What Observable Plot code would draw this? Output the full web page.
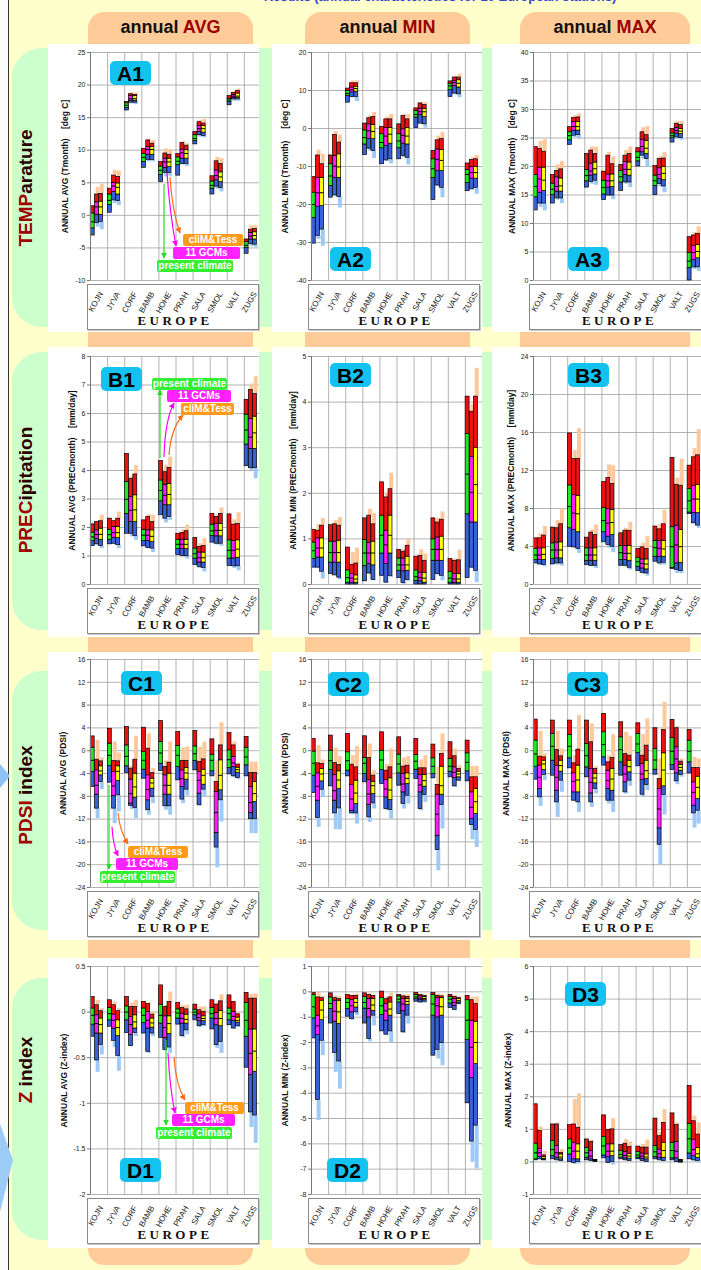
<!DOCTYPE html>
<html><head><meta charset="utf-8">
<script src="https://cdn.jsdelivr.net/npm/d3@7"></script>
<script src="https://cdn.jsdelivr.net/npm/@observablehq/plot@0.6"></script>
<style>
body{margin:0;background:#ffffcc;}
#page{position:relative;width:701px;height:1270px;overflow:hidden;background:#ffffcc;font-family:'Liberation Sans',Arial,sans-serif;}
</style></head>
<body><div id="page"></div>
<script>
// ---------------- DATA ----------------
const stations = ["KOJN","JYVA","CORF","BAMB","HOHE","PRAH","SALA","SMOL","VALT","ZUGS"];
const seriesNames = ["present climate","11 GCMs","cliM&Tess"];
const columnHeads = [["annual ","AVG"],["annual ","MIN"],["annual ","MAX"]];
const rowHeads = [["TEMP","arature"],["PREC","ipitation"],["PDSI"," index"],["Z"," index"]];
const groupLabel = "EUROPE";
// each bar: [paleLow, low, boxLow, median, boxHigh, high, paleHigh]; per station: [present, 11 GCMs, cliM&Tess]
const A1 = [
 [[-3.1,-3.1,-2.0,-1.0,0.3,1.4,1.4],[-1.8,-1.2,0.1,1.3,2.0,3.2,4.3],[-2.2,-1.0,0.1,1.3,2.1,3.3,4.8]],
 [[0.4,0.4,1.6,2.3,3.2,4.1,4.1],[1.8,2.3,3.6,4.5,5.0,6.1,6.9],[1.5,2.2,3.2,4.3,4.9,5.9,6.8]],
 [[16.1,16.1,16.5,16.9,17.2,17.4,17.4],[17.1,17.3,17.6,17.9,18.3,18.6,18.8],[17.0,17.3,17.6,17.9,18.3,18.5,18.8]],
 [[7.3,7.3,8.2,8.9,9.4,10.2,10.2],[8.2,8.5,9.3,10.1,10.5,11.5,11.7],[8.2,8.5,9.3,10.1,10.5,11.0,11.5]],
 [[5.1,5.1,6.2,6.9,7.5,8.2,8.2],[5.9,6.5,7.3,8.2,8.7,9.5,10.2],[6.0,6.5,7.4,8.2,8.7,9.3,10.1]],
 [[6.1,6.1,7.7,8.3,8.9,9.4,9.4],[7.7,7.9,8.7,9.6,10.1,11.1,11.3],[7.5,7.9,8.7,9.5,10.0,10.7,11.0]],
 [[10.9,10.9,11.4,11.8,12.3,12.8,12.8],[12.0,12.3,12.8,13.3,13.7,14.3,14.6],[11.9,12.2,12.7,13.3,13.7,14.1,14.7]],
 [[3.2,3.2,4.1,4.6,5.2,6.0,6.0],[4.0,4.4,5.4,6.1,6.9,8.3,8.9],[3.6,4.2,5.1,5.9,6.6,7.9,8.7]],
 [[16.9,16.9,17.4,17.7,17.9,18.3,18.3],[17.5,17.8,18.0,18.3,18.5,18.8,19.0],[17.5,17.8,18.0,18.3,18.7,19.1,19.4]],
 [[-5.9,-5.9,-5.0,-4.6,-4.1,-3.7,-3.7],[-4.8,-4.4,-3.7,-3.2,-2.7,-2.2,-1.6],[-4.9,-4.5,-3.7,-3.1,-2.6,-2.1,-1.6]]
];
const A2 = [
 [[-30.3,-30.3,-23.5,-20.0,-16.9,-12.8,-12.8],[-29.2,-28.3,-20.6,-16.9,-13.0,-7.1,-5.7],[-31.0,-26.6,-20.4,-16.9,-13.0,-9.4,-6.8]],
 [[-18.2,-18.2,-15.1,-12.5,-9.4,-7.1,-7.1],[-18.0,-17.6,-13.0,-9.9,-7.2,-1.7,-0.8],[-20.9,-18.0,-13.0,-10.1,-6.8,-3.7,-1.7]],
 [[6.8,6.8,8.6,9.2,9.9,10.5,10.5],[8.0,8.3,9.5,10.2,10.8,11.9,12.5],[7.1,8.3,9.7,10.5,11.0,11.9,12.5]],
 [[-7.0,-7.0,-4.2,-2.4,-0.5,1.3,1.3],[-5.9,-5.3,-2.8,-0.6,1.1,2.7,3.3],[-7.9,-5.9,-2.8,-0.8,0.9,3.0,4.2]],
 [[-9.4,-9.4,-5.2,-3.7,-1.5,0.4,0.4],[-8.7,-8.4,-4.6,-2.0,0.1,2.4,3.0],[-9.3,-8.1,-4.0,-1.5,0.1,2.4,3.7]],
 [[-8.1,-8.1,-5.2,-3.3,-1.5,1.1,1.1],[-7.7,-7.2,-4.0,-1.8,-0.2,3.3,3.6],[-9.6,-7.7,-4.2,-2.0,0.1,2.4,3.7]],
 [[0.1,0.1,2.9,3.7,4.6,5.3,5.3],[1.1,1.3,3.6,4.4,5.2,6.6,6.8],[0.1,1.1,3.0,4.4,5.1,6.2,6.8]],
 [[-18.8,-18.8,-13.0,-10.6,-8.1,-5.9,-5.9],[-15.3,-15.0,-11.2,-8.1,-5.5,-3.1,-2.0],[-18.2,-15.6,-11.2,-8.4,-5.7,-2.8,-1.1]],
 [[8.3,8.3,10.1,11.2,11.8,12.4,12.4],[8.8,9.2,11.2,12.1,12.5,13.4,13.8],[8.1,9.0,10.8,11.9,12.7,13.4,14.3]],
 [[-16.5,-16.5,-14.3,-12.1,-10.9,-9.2,-9.2],[-16.2,-16.0,-13.2,-11.6,-10.1,-8.3,-7.7],[-17.3,-15.6,-13.2,-11.6,-10.1,-8.1,-7.1]]
];
const A3 = [
 [[12.3,12.3,14.6,16.5,18.5,23.4,23.4],[12.8,13.5,15.4,17.8,19.8,23.1,24.4],[12.2,13.5,15.7,17.6,19.8,22.6,24.7]],
 [[13.5,13.5,15.0,16.0,17.0,18.5,18.5],[14.1,14.4,15.6,16.5,18.1,19.2,20.3],[13.5,14.4,15.6,16.6,17.9,19.5,20.9]],
 [[23.8,23.8,24.6,25.4,26.0,26.9,26.9],[25.1,25.4,26.3,27.0,27.8,28.5,28.9],[24.8,25.5,26.3,27.0,27.8,28.6,29.2]],
 [[16.3,16.3,17.4,18.4,19.4,22.2,22.2],[16.9,17.3,18.4,19.2,20.5,22.8,23.4],[16.7,17.5,18.6,19.6,20.7,22.2,23.4]],
 [[14.1,14.1,15.1,16.3,17.5,19.1,19.1],[14.8,14.9,16.3,17.5,18.6,21.9,22.5],[14.2,14.9,16.4,17.5,18.6,20.4,21.7]],
 [[15.7,15.7,17.2,18.2,19.2,20.3,20.3],[16.9,17.2,18.5,19.5,20.8,21.9,22.8],[16.3,17.2,18.4,19.5,20.7,22.2,23.4]],
 [[20.0,20.0,20.9,21.6,22.5,23.2,23.2],[21.3,21.9,22.5,23.5,24.7,26.0,26.8],[19.9,21.3,22.2,23.2,24.5,25.5,27.0]],
 [[15.0,15.0,16.6,17.5,18.4,20.1,20.1],[16.4,16.9,17.8,18.6,19.7,21.3,21.7],[15.4,16.5,17.6,18.8,19.9,21.4,22.5]],
 [[24.2,24.2,25.0,25.4,25.8,26.6,26.6],[24.8,25.1,25.8,26.3,26.8,27.5,27.9],[24.6,25.0,25.7,26.2,26.6,27.3,27.9]],
 [[0.0,0.0,2.2,3.4,4.8,7.6,7.6],[1.9,2.3,3.6,4.9,6.1,7.9,8.4],[1.6,2.3,3.9,5.1,6.2,8.2,9.4]]
];
const B1 = [
 [[1.35,1.35,1.52,1.67,1.82,2.11,2.11],[1.38,1.41,1.59,1.75,1.90,2.19,2.22],[1.26,1.35,1.57,1.76,1.96,2.22,2.43]],
 [[1.41,1.41,1.57,1.75,1.92,2.31,2.31],[1.40,1.43,1.64,1.82,2.02,2.22,2.25],[1.26,1.38,1.63,1.82,2.02,2.31,2.54]],
 [[1.78,1.78,2.48,2.99,3.59,4.58,4.58],[1.67,1.78,2.19,2.60,3.07,3.71,3.77],[1.55,1.70,2.19,2.62,3.13,3.86,4.17]],
 [[1.34,1.34,1.53,1.73,1.92,2.25,2.25],[1.26,1.28,1.53,1.73,1.90,2.37,2.45],[1.12,1.26,1.49,1.69,1.90,2.19,2.43]],
 [[2.43,2.43,2.92,3.30,3.65,4.33,4.33],[2.16,2.31,2.78,3.13,3.50,3.94,4.17],[2.25,2.37,2.78,3.16,3.53,4.09,4.47]],
 [[1.03,1.03,1.24,1.41,1.57,1.78,1.78],[0.97,1.00,1.24,1.41,1.57,1.81,1.92],[0.89,0.99,1.24,1.41,1.57,1.87,2.08]],
 [[0.68,0.68,0.91,1.08,1.26,1.63,1.63],[0.56,0.62,0.77,0.94,1.12,1.32,1.43],[0.44,0.58,0.77,0.94,1.12,1.35,1.61]],
 [[1.47,1.47,1.70,1.88,2.10,2.48,2.48],[1.38,1.43,1.69,1.90,2.13,2.37,2.43],[1.34,1.43,1.69,1.90,2.13,2.48,2.69]],
 [[0.65,0.65,0.91,1.20,1.55,2.46,2.46],[0.56,0.64,0.91,1.20,1.53,2.10,2.27],[0.48,0.64,0.94,1.24,1.55,2.13,2.52]],
 [[4.15,4.15,4.91,5.42,5.96,6.48,6.48],[4.00,4.08,4.76,5.17,5.81,6.83,7.03],[3.71,4.08,4.76,5.32,5.89,6.68,7.29]]
];
const B2 = [
 [[0.37,0.37,0.56,0.74,0.92,1.20,1.20],[0.35,0.37,0.59,0.80,1.01,1.18,1.31],[0.12,0.28,0.59,0.80,1.01,1.29,1.45]],
 [[0.23,0.23,0.48,0.70,0.94,1.30,1.30],[0.19,0.20,0.48,0.70,0.94,1.32,1.40],[0.10,0.15,0.48,0.70,0.96,1.29,1.47]],
 [[0,0,0.04,0.15,0.31,0.81,0.81],[0,0,0.04,0.14,0.23,0.43,0.70],[0,0,0.04,0.12,0.20,0.46,0.80]],
 [[0.07,0.07,0.41,0.69,0.98,1.45,1.45],[0.23,0.24,0.45,0.69,0.91,1.51,1.65],[0.08,0.10,0.42,0.69,0.94,1.32,1.56]],
 [[0.19,0.19,0.68,1.08,1.51,2.24,2.24],[0.03,0.04,0.45,0.87,1.18,1.91,2.00],[0.15,0.19,0.68,1.08,1.51,2.09,2.44]],
 [[0.14,0.14,0.30,0.43,0.57,0.76,0.76],[0,0.03,0.29,0.43,0.57,0.72,0.77],[0.07,0.10,0.30,0.43,0.61,0.85,0.99]],
 [[0,0,0.08,0.17,0.31,0.61,0.61],[0,0,0.07,0.15,0.26,0.63,0.76],[0,0,0.04,0.14,0.25,0.52,0.67]],
 [[0.10,0.10,0.52,0.77,0.99,1.45,1.45],[0.20,0.23,0.52,0.77,1.03,1.36,1.45],[0.08,0.19,0.52,0.77,1.05,1.42,1.59]],
 [[0,0,0.04,0.14,0.28,0.56,0.56],[0,0,0.04,0.12,0.23,0.52,0.56],[0,0,0.04,0.12,0.23,0.53,0.75]],
 [[0.14,0.14,1.54,2.42,3.30,4.12,4.12],[0.35,0.37,1.36,2.02,2.80,3.79,3.95],[0.04,0.30,1.36,2.19,3.00,4.12,4.74]]
];
const B3 = [
 [[2.22,2.22,2.57,3.10,3.74,4.86,4.86],[2.04,2.11,2.57,3.10,3.81,4.86,5.32],[1.87,2.04,2.57,3.17,3.81,5.15,6.10]],
 [[2.11,2.11,2.68,3.63,4.33,5.99,5.99],[2.04,2.22,2.75,3.63,4.41,5.92,6.73],[1.94,2.22,2.75,3.63,4.44,6.34,7.96]],
 [[3.98,3.98,5.92,8.21,10.43,15.9,15.9],[3.81,3.91,5.74,7.51,9.44,13.2,14.1],[3.28,3.74,5.50,7.44,9.34,13.2,16.4]],
 [[2.04,2.04,2.50,3.10,3.81,4.93,4.93],[1.87,1.94,2.50,3.10,3.81,5.46,5.74],[1.69,1.97,2.50,3.10,3.81,5.22,6.27]],
 [[4.44,4.44,5.50,6.73,8.04,10.78,10.78],[3.81,4.16,5.04,6.45,7.93,11.2,12.6],[3.35,3.98,5.22,6.52,7.86,10.6,12.5]],
 [[1.97,1.97,2.57,3.35,4.05,5.39,5.39],[1.87,1.97,2.57,3.28,4.05,5.67,5.92],[1.52,1.76,2.50,3.28,4.05,5.64,6.55]],
 [[1.41,1.41,1.87,2.40,2.82,3.74,3.74],[1.09,1.23,1.69,2.22,2.64,3.91,4.33],[0.88,1.16,1.59,2.15,2.64,3.74,5.04]],
 [[2.40,2.40,2.92,3.88,4.58,6.10,6.10],[2.04,2.22,2.92,3.81,4.58,5.81,6.34],[2.04,2.29,2.92,3.74,4.58,6.34,7.79]],
 [[1.62,1.62,1.76,3.98,6.03,13.32,13.32],[1.16,1.52,2.22,4.16,6.20,10.5,11.2],[1.16,1.41,2.29,3.98,5.74,10.4,13.2]],
 [[7.40,7.40,7.58,8.81,10.04,12.51,12.51],[6.34,6.45,7.51,8.99,10.40,13.39,14.3],[5.92,6.20,7.51,8.99,10.5,13.6,16.3]]
];
const C1 = [
 [[-6.36,-6.36,-3.74,-1.69,0.53,2.51,2.51],[-11.91,-10.16,-7.71,-6.07,-3.45,-1.58,1.81],[-6.83,-5.49,-4.32,-3.56,-2.74,-1.87,-1.28]],
 [[-5.61,-5.61,-2.69,-0.82,1.23,3.85,3.85],[-12.79,-10.16,-7.94,-6.19,-3.74,-1.81,1.52],[-10.74,-7.82,-5.31,-3.62,-2.74,-1.87,-0.41]],
 [[-3.91,-3.91,-2.74,-1.0,0.93,4.15,4.15],[-10.34,-9.69,-9.28,-7.53,-5.08,-3.15,-2.74],[-11.91,-10.04,-8.23,-6.36,-4.03,-1.58,2.51]],
 [[-4.91,-4.91,-3.33,-1.69,-0.23,4.03,4.03],[-11.33,-10.45,-8.70,-6.83,-4.32,0.35,2.98],[-9.28,-8.12,-6.66,-5.66,-4.91,-3.91,-3.15]],
 [[-3.56,-3.56,-2.28,-0.41,1.52,5.20,5.20],[-10.45,-9.75,-7.71,-6.07,-4.32,-2.86,-1.81],[-11.33,-9.75,-7.71,-6.07,-4.03,-2.10,1.52]],
 [[-5.20,-5.20,-2.86,-0.82,0.82,3.27,3.27],[-9.28,-8.58,-6.36,-4.91,-3.45,-1.81,0.47],[-7.94,-6.83,-5.08,-3.91,-3.04,-1.81,0.64]],
 [[-3.45,-3.45,-1.81,-0.53,0.76,3.45,3.45],[-9.69,-9.58,-7.53,-5.20,-3.74,-1.99,0.64],[-8.12,-6.83,-5.96,-4.32,-3.33,-1.52,1.52]],
 [[-4.50,-4.50,-3.62,-1.69,-0.70,1.99,1.99],[-20.55,-16.99,-14.42,-10.86,-7.24,-5.49,-1.69],[-12.50,-8.70,-6.95,-4.32,-1.69,0.93,4.91]],
 [[-4.15,-4.15,-3.04,-1.58,0.06,3.09,3.09],[-4.73,-4.50,-2.86,-2.16,-1.11,0.93,1.52],[-5.08,-4.79,-3.85,-3.33,-2.98,-2.45,-2.16]],
 [[-4.50,-4.50,-2.57,-1.11,0.53,2.39,2.39],[-14.54,-12.03,-10.92,-9.11,-6.36,-3.91,-1.99],[-14.54,-12.03,-8.99,-7.53,-5.49,-3.91,-1.99]]
];
const C2 = [
 [[-7.43,-7.43,-4.38,-2.21,-0.16,2.06,2.06],[-13.46,-11.82,-8.77,-6.25,-3.97,-2.21,0.89],[-8.19,-6.84,-5.38,-4.09,-3.21,-2.33,-1.63]],
 [[-6.25,-6.25,-3.39,-1.75,0.0,2.65,2.65],[-13.87,-11.0,-8.77,-7.02,-4.26,-2.16,0.48],[-13.87,-10.12,-6.72,-5.14,-3.62,-2.51,-1.04]],
 [[-4.50,-4.50,-3.50,-1.75,-0.28,2.94,2.94],[-11.12,-11.0,-10.53,-8.48,-6.02,-2.45,-0.87],[-12.87,-11.0,-9.36,-7.43,-5.26,-2.92,0.71]],
 [[-5.55,-5.55,-4.09,-2.21,-1.28,2.53,2.53],[-12.58,-11.70,-9.48,-7.60,-5.14,-1.28,1.18],[-10.24,-9.24,-7.60,-6.14,-5.44,-4.38,-3.50]],
 [[-5.85,-5.85,-3.39,-1.63,0.0,3.23,3.23],[-10.53,-10.24,-8.19,-6.72,-5.14,-3.50,-2.45],[-12.0,-10.41,-8.66,-6.90,-4.85,-2.92,0.30]],
 [[-6.14,-6.14,-3.97,-2.33,-0.69,2.35,2.35],[-10.24,-9.36,-7.31,-5.85,-4.09,-2.80,-1.28],[-9.36,-7.90,-5.85,-4.85,-3.97,-2.63,-1.04]],
 [[-4.97,-4.97,-3.33,-1.86,-0.75,2.06,2.06],[-10.53,-10.24,-7.31,-6.02,-4.26,-3.09,-1.63],[-9.07,-7.78,-6.31,-5.26,-4.26,-3.09,-0.87]],
 [[-4.85,-4.85,-4.09,-2.74,-1.34,1.07,1.07],[-21.07,-17.44,-14.92,-11.12,-7.72,-6.02,-2.92],[-13.75,-9.53,-7.72,-6.14,-2.80,-0.57,2.94]],
 [[-4.67,-4.67,-3.68,-2.74,-1.45,1.48,1.48],[-6.43,-6.25,-4.79,-3.80,-2.92,-0.98,0.30],[-5.44,-5.26,-4.67,-4.09,-3.68,-3.21,-2.62]],
 [[-5.38,-5.38,-3.62,-2.04,-0.46,1.77,1.77],[-15.63,-13.05,-12.0,-9.94,-7.31,-4.67,-2.74],[-16.97,-13.93,-11.12,-8.95,-6.72,-4.67,-2.74]]
];
const C3 = [
 [[-5.08,-5.08,-2.80,-0.57,1.77,5.46,5.46],[-9.77,-8.19,-6.72,-4.67,-2.62,-1.04,3.41],[-5.26,-4.26,-3.39,-2.33,-1.75,-1.16,-0.57]],
 [[-4.38,-4.38,-1.75,0.77,2.94,5.28,5.28],[-11.70,-9.07,-7.02,-4.67,-2.62,0.13,3.41],[-7.31,-5.26,-3.68,-2.62,-1.75,-0.98,0.30]],
 [[-3.09,-3.09,-1.34,0.77,2.76,5.28,5.28],[-8.89,-8.77,-7.31,-5.38,-3.97,-2.21,-0.87],[-10.82,-9.07,-7.31,-5.14,-2.62,0.19,6.16]],
 [[-4.67,-4.67,-2.92,-0.87,1.18,5.28,5.28],[-9.94,-9.07,-7.49,-5.55,-3.21,1.48,4.70],[-7.60,-6.72,-5.73,-4.79,-4.09,-3.21,-2.80]],
 [[-2.62,-2.62,-1.16,1.07,3.23,6.45,6.45],[-9.36,-8.77,-6.72,-5.26,-3.50,-2.04,-0.87],[-10.82,-8.77,-7.02,-4.97,-3.21,-1.28,2.82]],
 [[-4.38,-4.38,-2.04,0.19,2.35,4.99,4.99],[-7.60,-7.31,-5.55,-4.09,-2.62,-0.57,3.23],[-6.25,-5.26,-3.80,-2.80,-1.75,-0.87,2.53]],
 [[-2.74,-2.74,-0.40,1.18,2.94,4.81,4.81],[-8.19,-7.72,-5.14,-4.09,-2.33,-0.87,2.82],[-7.02,-6.02,-4.97,-3.50,-1.75,0.89,5.57]],
 [[-4.21,-4.21,-3.33,-1.63,0.30,3.94,3.94],[-20.02,-16.50,-13.63,-10.24,-6.72,-4.97,-1.45],[-11.29,-7.78,-6.25,-3.39,-0.46,3.64,8.50]],
 [[-3.39,-3.39,-2.51,-0.11,2.24,5.40,5.40],[-5.96,-5.38,-3.97,-1.45,0.60,3.94,4.23],[-4.67,-4.26,-3.50,-2.92,-2.51,-1.92,-1.45]],
 [[-3.97,-3.97,-2.04,-0.11,1.77,3.64,3.64],[-13.58,-11.0,-9.65,-7.31,-5.55,-3.04,-1.16],[-12.87,-10.53,-8.48,-6.43,-4.56,-3.04,-1.45]]
];
const D1 = [
 [[-0.27,-0.27,-0.137,-0.035,0.04,0.165,0.165],[-0.66,-0.53,-0.235,-0.126,-0.035,0.075,0.13],[-0.47,-0.36,-0.235,-0.137,-0.07,0.01,0.04]],
 [[-0.16,-0.16,-0.09,-0.017,0.045,0.13,0.13],[-0.39,-0.315,-0.18,-0.09,-0.028,0.075,0.11],[-0.65,-0.48,-0.264,-0.17,-0.09,0.01,0.04]],
 [[-0.23,-0.23,-0.09,0.0,0.063,0.165,0.165],[-0.38,-0.373,-0.25,-0.137,-0.053,0.056,0.10],[-0.27,-0.23,-0.18,-0.108,-0.035,0.056,0.13]],
 [[-0.235,-0.235,-0.119,-0.035,0.04,0.11,0.11],[-0.453,-0.435,-0.18,-0.09,0.0,0.09,0.10],[-0.27,-0.235,-0.17,-0.119,-0.07,-0.028,0.0]],
 [[-0.283,-0.283,-0.126,-0.035,0.082,0.293,0.293],[-0.424,-0.417,-0.283,-0.17,-0.046,0.056,0.075],[-0.453,-0.388,-0.242,-0.126,-0.046,0.11,0.22]],
 [[-0.137,-0.137,-0.07,-0.01,0.03,0.10,0.10],[-0.28,-0.264,-0.126,-0.07,-0.017,0.045,0.07],[-0.25,-0.2,-0.126,-0.08,-0.028,0.03,0.075]],
 [[-0.09,-0.09,-0.035,0.0,0.027,0.082,0.082],[-0.17,-0.155,-0.097,-0.06,-0.024,0.02,0.056],[-0.16,-0.144,-0.1,-0.07,-0.046,0.0,0.056]],
 [[-0.19,-0.19,-0.07,-0.017,0.045,0.13,0.13],[-0.4,-0.363,-0.144,-0.07,-0.01,0.082,0.10],[-0.453,-0.326,-0.155,-0.07,0.012,0.118,0.19]],
 [[-0.144,-0.144,-0.09,-0.017,0.04,0.183,0.183],[-0.19,-0.18,-0.097,-0.046,0.0,0.11,0.11],[-0.17,-0.155,-0.115,-0.09,-0.06,-0.024,0.0]],
 [[-0.61,-0.61,-0.27,-0.09,0.1,0.21,0.21],[-1.265,-1.10,-0.69,-0.453,-0.19,0.147,0.194],[-1.44,-1.134,-0.654,-0.428,-0.19,0.147,0.2]]
];
const D2 = [
 [[-1.84,-1.84,-1.05,-0.59,-0.13,-0.05,-0.05],[-5.08,-4.27,-1.71,-1.34,-0.94,-0.22,-0.02],[-2.52,-1.93,-1.12,-0.72,-0.35,-0.25,-0.18]],
 [[-1.25,-1.25,-0.68,-0.46,-0.22,-0.06,-0.06],[-3.18,-2.42,-1.18,-0.77,-0.35,-0.25,-0.16],[-3.84,-2.75,-1.27,-0.79,-0.35,-0.29,-0.2]],
 [[-0.98,-0.98,-0.68,-0.42,-0.29,-0.13,-0.13],[-1.12,-1.08,-0.81,-0.55,-0.33,-0.16,-0.12],[-0.94,-0.81,-0.62,-0.42,-0.29,-0.16,-0.09]],
 [[-1.25,-1.25,-0.66,-0.42,-0.2,-0.06,-0.06],[-1.97,-1.86,-1.01,-0.66,-0.29,-0.12,-0.06],[-1.34,-0.94,-0.75,-0.52,-0.29,-0.16,-0.12]],
 [[-1.56,-1.56,-0.91,-0.55,-0.25,0.01,0.01],[-1.73,-1.69,-1.14,-0.75,-0.48,-0.29,-0.2],[-2.0,-1.56,-0.94,-0.68,-0.42,-0.22,-0.06]],
 [[-0.88,-0.88,-0.42,-0.29,-0.18,-0.12,-0.12],[-1.63,-1.6,-0.75,-0.48,-0.29,-0.18,-0.12],[-1.27,-0.94,-0.51,-0.38,-0.29,-0.2,-0.12]],
 [[-0.39,-0.39,-0.29,-0.2,-0.13,-0.05,-0.05],[-0.45,-0.42,-0.33,-0.25,-0.18,-0.13,-0.09],[-0.45,-0.39,-0.33,-0.26,-0.2,-0.16,-0.12]],
 [[-2.52,-2.52,-0.94,-0.48,-0.13,-0.05,-0.05],[-2.65,-2.29,-1.01,-0.55,-0.25,-0.16,-0.09],[-2.92,-2.02,-0.94,-0.59,-0.25,-0.18,-0.12]],
 [[-0.64,-0.64,-0.46,-0.29,-0.2,-0.12,-0.12],[-0.75,-0.71,-0.55,-0.42,-0.29,-0.2,-0.13],[-0.52,-0.48,-0.42,-0.35,-0.29,-0.25,-0.2]],
 [[-4.4,-4.4,-1.9,-1.12,-0.33,-0.16,-0.16],[-6.73,-5.91,-3.4,-2.19,-1.14,-0.33,-0.22],[-6.99,-5.28,-2.85,-2.0,-1.18,-0.48,-0.2]]
];
const D3 = [
 [[0.05,0.05,0.08,0.28,0.56,1.77,1.77],[0.06,0.08,0.15,0.28,0.40,0.95,1.07],[0.03,0.05,0.08,0.11,0.15,0.2,0.33]],
 [[0.08,0.08,0.18,0.38,0.64,1.15,1.15],[0.03,0.05,0.13,0.28,0.49,1.15,1.2],[0.0,0.03,0.08,0.15,0.23,0.28,0.38]],
 [[0.0,0.0,0.23,0.43,0.69,1.13,1.13],[-0.08,-0.03,0.08,0.33,0.59,1.15,1.92],[-0.06,0.0,0.08,0.33,0.54,1.05,2.09]],
 [[0.05,0.05,0.13,0.28,0.43,0.69,0.69],[0.0,0.03,0.08,0.18,0.33,0.61,0.66],[0.0,0.0,0.03,0.04,0.05,0.06,0.08]],
 [[0.11,0.11,0.2,0.49,0.76,1.43,1.43],[-0.06,-0.03,0.15,0.33,0.54,0.98,1.0],[-0.1,0.0,0.18,0.33,0.54,1.0,1.33]],
 [[0.08,0.08,0.13,0.23,0.33,0.52,0.52],[0.03,0.05,0.11,0.2,0.31,0.56,0.69],[0.0,0.03,0.1,0.18,0.25,0.46,0.61]],
 [[0.08,0.08,0.13,0.21,0.3,0.47,0.47],[0.0,0.03,0.1,0.18,0.26,0.44,0.54],[-0.03,0.0,0.08,0.15,0.23,0.44,0.67]],
 [[0.08,0.08,0.15,0.31,0.49,1.33,1.33],[0.03,0.05,0.13,0.25,0.38,0.79,0.9],[0.0,0.03,0.13,0.35,0.59,1.2,1.61]],
 [[0.05,0.05,0.11,0.35,0.59,1.49,1.49],[-0.03,0.0,0.11,0.33,0.61,1.13,1.2],[-0.05,-0.02,0.0,0.03,0.04,0.06,0.08]],
 [[0.08,0.08,0.26,0.71,1.17,2.33,2.33],[0.0,0.05,0.18,0.38,0.67,1.25,1.41],[-0.03,0.03,0.13,0.25,0.43,0.84,1.2]]
];
// tick labels
const A1_ticks=[-10,-5,0,5,10,15,20,25];
const A2_ticks=[-40,-30,-20,-10,0,10,20];
const A3_ticks=[0,5,10,15,20,25,30,35,40];
const B1_ticks=[0,1,2,3,4,5,6,7,8];
const B2_ticks=[0,1,2,3,4,5];
const B3_ticks=[0,4,8,12,16,20,24];
const C_ticks=[-24,-20,-16,-12,-8,-4,0,4,8,12,16];
const D1_ticks=[-2,-1.5,-1,-0.5,0,0.5];
const D2_ticks=[-8,-7,-6,-5,-4,-3,-2,-1,0,1];
const D3_ticks=[-1,0,1,2,3,4,5,6];

// ---------------- LAYOUT ----------------
const page = document.getElementById("page");
function box(css, text){const d=document.createElement("div");d.style.cssText="position:absolute;"+css;if(text!=null)d.textContent=text;page.appendChild(d);return d;}
const FONT="'Liberation Sans',Arial,sans-serif";
const colL=[48,272,492], colR=[259,482,701], axisX=[90,311,533];
const orL=[88,305,520], orR=[253,470,690];
const plotTop=[52,356,659,966], plotH=228;
const panTop=[44,347,652,958], panBot=[332,637,940,1248];
const greenT=[48,352,671,978], greenB=[327,630,930,1240];
const boxL=[87,308,529], boxR=[257,478,704];
const catW=171;
const centerFill=["#22e822","#ff1cff","#ffff00"];

box("left:0;top:0;width:8px;height:1270px;background:#fbfbfb");
box("left:8px;top:0;width:1px;height:1270px;background:#333");
box(`left:150px;top:-11px;width:580px;text-align:center;font:bold 13px ${FONT};color:#3344cc;white-space:nowrap`,"Results (annual characteristics for 10 European stations)");
for(let c=0;c<3;c++) box(`left:${orL[c]}px;top:12px;width:${orR[c]-orL[c]}px;height:1253px;background:#ffcc99;border-radius:16px`);
for(let r=0;r<4;r++) box(`left:12px;top:${greenT[r]}px;width:720px;height:${greenB[r]-greenT[r]}px;background:#ccffcc;border-radius:30px 0 0 30px`);
// column heads
for(let c=0;c<3;c++){const d=box(`left:${orL[c]}px;top:16px;width:${orR[c]-orL[c]}px;text-align:center;font:bold 18px ${FONT};color:#111;line-height:22px`);
 const s1=document.createElement("span");s1.textContent=columnHeads[c][0];const s2=document.createElement("span");s2.textContent=columnHeads[c][1];s2.style.color="#9a0000";d.append(s1,s2);}
// row heads
const rowCy=[188,490,795,1070];
for(let r=0;r<4;r++){const d=box(`left:${27-100}px;top:${rowCy[r]-12}px;width:200px;height:24px;line-height:24px;text-align:center;transform:rotate(-90deg);font:bold 19px ${FONT};color:#2a0000;white-space:pre`);
 const s1=document.createElement("span");s1.textContent=rowHeads[r][0];s1.style.color="#a00000";const s2=document.createElement("span");s2.textContent=rowHeads[r][1];d.append(s1,s2);}
// white panels
for(let r=0;r<4;r++)for(let c=0;c<3;c++) box(`left:${colL[c]}px;top:${panTop[r]}px;width:${colR[c]-colL[c]}px;height:${panBot[r]-panTop[r]}px;background:#fff`);

const panels=[
 {id:"A1",data:A1,row:0,col:0,ticks:A1_ticks,title:"ANNUAL AVG (Tmonth)    [deg C]",tdx:-25,lab:[110,61]},
 {id:"A2",data:A2,row:0,col:1,ticks:A2_ticks,title:"ANNUAL MIN (Tmonth)     [deg C]",tdx:-26,lab:[330,247]},
 {id:"A3",data:A3,row:0,col:2,ticks:A3_ticks,title:"ANNUAL MAX (Tmonth)    [deg C]",tdx:-21,lab:[568,247]},
 {id:"B1",data:B1,row:1,col:0,ticks:B1_ticks,title:"ANNUAL AVG (PRECmonth)    [mm/day]",tdx:-18,lab:[101,367]},
 {id:"B2",data:B2,row:1,col:1,ticks:B2_ticks,title:"ANNUAL MIN (PRECmonth)    [mm/day]",tdx:-18,lab:[330,363]},
 {id:"B3",data:B3,row:1,col:2,ticks:B3_ticks,title:"ANNUAL MAX (PRECmonth)    [mm/day]",tdx:-22,lab:[568,363]},
 {id:"C1",data:C1,row:2,col:0,ticks:C_ticks,title:"ANNUAL AVG (PDSI)",tdx:-27,lab:[121,671]},
 {id:"C2",data:C2,row:2,col:1,ticks:C_ticks,title:"ANNUAL MIN (PDSI)",tdx:-26,lab:[328,672]},
 {id:"C3",data:C3,row:2,col:2,ticks:C_ticks,title:"ANNUAL MAX (PDSI)",tdx:-27,lab:[567,672]},
 {id:"D1",data:D1,row:3,col:0,ticks:D1_ticks,title:"ANNUAL AVG (Z-index)",tdx:-26,lab:[120,1158]},
 {id:"D2",data:D2,row:3,col:1,ticks:D2_ticks,title:"ANNUAL MIN (Z-index)",tdx:-26,lab:[327,1158]},
 {id:"D3",data:D3,row:3,col:2,ticks:D3_ticks,title:"ANNUAL MAX (Z-index)",tdx:-25,lab:[565,982]}
];

function drawPanel(p){
 const c=p.col,r=p.row;
 const W=colR[c]-colL[c], ml=axisX[c]-colL[c], mt=10, mb=52, H=mt+plotH+mb;
 // x-axis frame box with group label
 const bt=plotTop[r]+plotH+4;
 box(`left:${boxL[c]}px;top:${bt}px;width:${boxR[c]-boxL[c]}px;height:44px;border:1px solid #8a8a8a;box-shadow:1px 1px 0 #c8c8c8;background:#fff`);
 box(`left:${boxL[c]+3}px;top:${bt+30}px;width:${boxR[c]-boxL[c]}px;text-align:center;font:bold 13px 'Liberation Serif','Times New Roman',serif;letter-spacing:3.5px;color:#111;line-height:14px`,groupLabel);
 const rows=[];p.data.forEach((bars,i)=>bars.forEach((v,j)=>rows.push({i,j,v})));
 const bx1=d=>d.i+0.015+d.j*0.245, bx2=d=>bx1(d)+0.23;
 const px1=d=>bx1(d)+0.07, px2=d=>bx2(d)+0.07;
 const yMin=p.ticks[0], yMax=p.ticks[p.ticks.length-1];
 const sw=0.7;
 const chart=Plot.plot({
  width:W,height:H,marginLeft:ml,marginRight:0,marginTop:mt,marginBottom:mb,
  x:{domain:[0,10],range:[ml,ml+catW]},
  y:{domain:[yMin,yMax],range:[mt+plotH,mt]},
  style:{background:"transparent",fontFamily:FONT,overflow:"hidden"},
  marks:[
   Plot.ruleY(p.ticks,{stroke:"#a0a0a0",strokeWidth:0.8}),
   Plot.ruleX(d3.range(1,11),{stroke:"#a0a0a0",strokeWidth:0.8}),
   Plot.rect(rows.filter(d=>d.v[6]>d.v[5]),{x1:px1,x2:px2,y1:d=>d.v[5],y2:d=>d.v[6],fill:"#fdc89b"}),
   Plot.rect(rows.filter(d=>d.v[0]<d.v[1]),{x1:px1,x2:px2,y1:d=>d.v[0],y2:d=>d.v[1],fill:"#9fcaf7"}),
   Plot.rect(rows.filter(d=>d.v[2]>d.v[1]),{x1:bx1,x2:bx2,y1:d=>d.v[1],y2:d=>d.v[2],fill:"#3a62d8",stroke:"#000",strokeWidth:sw}),
   ...[0,1,2].map(j=>Plot.rect(rows.filter(d=>d.j===j),{x1:bx1,x2:bx2,y1:d=>d.v[2],y2:d=>d.v[4],fill:centerFill[j],stroke:"#000",strokeWidth:sw})),
   Plot.rect(rows.filter(d=>d.v[5]>d.v[4]),{x1:bx1,x2:bx2,y1:d=>d.v[4],y2:d=>d.v[5],fill:"#ee1111",stroke:"#000",strokeWidth:sw}),
   Plot.ruleY(rows,{y:d=>d.v[3],x1:bx1,x2:bx2,stroke:"#000",strokeWidth:1}),
   Plot.ruleX([0],{stroke:"#777",strokeWidth:1}),
   Plot.axisY(p.ticks,{tickFormat:d=>String(d),tickSize:3,tickPadding:2,fontSize:7,stroke:"#777",fill:"#222",label:null}),
   Plot.axisX(d3.range(10).map(i=>i+0.62),{tickFormat:d=>stations[Math.floor(d)],tickRotate:-60,tickSize:0,tickPadding:12,fontSize:8,fill:"#222",label:null}),
   Plot.text([p.title],{text:d=>d,frameAnchor:"left",rotate:-90,dx:p.tdx,fontSize:8.5,fontWeight:"bold",fill:"#111",textAnchor:"middle"})
  ]
 });
 const holder=box(`left:${colL[c]}px;top:${plotTop[r]-mt}px;width:${W}px;height:${H}px;overflow:hidden`);
 chart.style.maxWidth="none";
 holder.appendChild(chart);
 box(`left:${p.lab[0]}px;top:${p.lab[1]}px;width:41px;height:24px;background:#14c2ef;border-radius:5px;font:bold 21px ${FONT};text-align:center;line-height:25px;color:#000`,p.id);
}
panels.forEach(drawPanel);

// ---------------- annotations (legend call-outs) ----------------
const NS="http://www.w3.org/2000/svg";
const ov=document.createElementNS(NS,"svg");
ov.setAttribute("width","701");ov.setAttribute("height","1270");
ov.style.cssText="position:absolute;left:0;top:0;pointer-events:none";
const annColors=["#22dd22","#ff00ff","#ff6a13"];
let defs='<defs>'+annColors.map((col,k)=>`<marker id="m${k}" viewBox="0 0 10 10" refX="9" refY="5" markerWidth="5" markerHeight="5" orient="auto-start-reverse"><path d="M0,0 L10,5 L0,10 z" fill="${col}"/></marker>`).join("")+'</defs>';
const arrowSets=[
 ["M164,184 L164,258","M167,173 Q170,215 176,246","M170,177 Q172,210 180,233"],
 ["M160,458 L160,390","M164,457 Q165,420 174,403","M169,455 Q171,428 183,415"],
 ["M109,785 L109,869","M112,827 Q113,845 118,856","M118,813 Q120,832 128,844"],
 ["M166,1040 L166,1125","M168,1053 Q170,1090 175,1113","M174,1057 Q176,1085 185,1100"]
];
let paths=arrowSets.map(set=>set.map((dd,k)=>`<path d="${dd}" fill="none" stroke="${annColors[k]}" stroke-width="1.2" marker-end="url(#m${k})"/>`).join("")).join("");
const tri='<polygon points="0,764 10,776 0,788" fill="#8fc3f7"/><polygon points="0,1124 13,1160 0,1212" fill="#9ccbf8"/>';
ov.innerHTML=defs+paths+tri;
page.appendChild(ov);
const legendBoxes=[
 [[183,234,60,2],[173,247,67,1],[157,260,76,0]],
 [[152,378,75,0],[167,390,64,1],[181,403,53,2]],
 [[128,846,60,2],[116,858,62,1],[100,871,75,0]],
 [[185,1102,59,2],[172,1114,63,1],[156,1127,76,0]]
];
const legFill=["#33ee33","#ff22ff","#ff9a1a"];
legendBoxes.forEach(set=>set.forEach(([x,y,w,k])=>{
 box(`left:${x}px;top:${y}px;width:${w}px;height:12px;background:${legFill[k]};border-radius:2px;font:bold 10px ${FONT};color:#fff;text-align:center;line-height:12px;white-space:nowrap`,seriesNames[k]);
}));
</script>
</body></html>
